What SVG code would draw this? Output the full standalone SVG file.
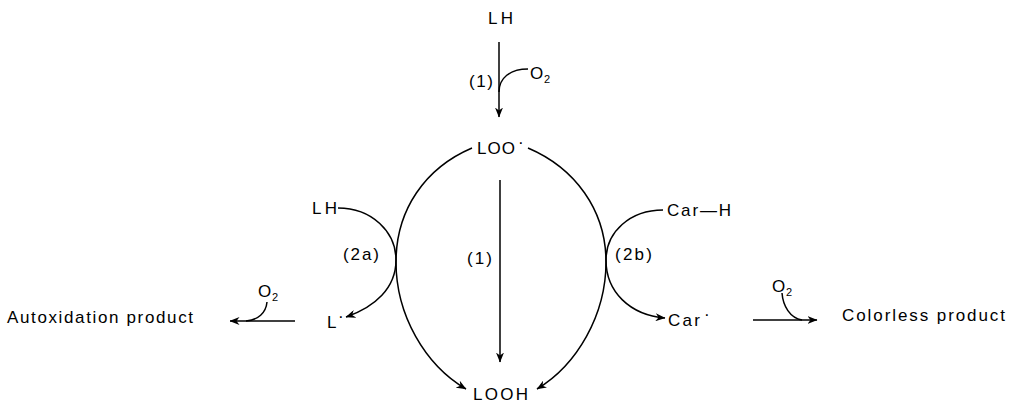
<svg xmlns="http://www.w3.org/2000/svg" width="1018" height="404" viewBox="0 0 1018 404">
<defs>
<marker id="ah" viewBox="0 0 10 8" refX="9.5" refY="4" markerWidth="10" markerHeight="8" markerUnits="userSpaceOnUse" orient="auto">
<path d="M0,0 L10,4 L0,8 L3,4 z" fill="#000"/>
</marker>
<style>
text{font-family:"Liberation Sans",Arial,sans-serif;font-size:17px;fill:#000}
.sub{font-size:11px}
.ln{fill:none;stroke:#000;stroke-width:1.5}
.arr{fill:none;stroke:#000;stroke-width:1.5;marker-end:url(#ah)}
</style>
</defs>
<rect width="1018" height="404" fill="#fff"/>
<g id="connectors">
<path class="arr" d="M499 42 L499 117"/>
<path class="ln" d="M499 92 C499 78 510 69 528 69"/>
<path class="arr" d="M472 148 C425 168 396 210 396 262 C396 315 425 365 466 389"/>
<path class="arr" d="M528 148 C575 168 606 210 606 262 C606 315 577 365 537 389"/>
<path class="arr" d="M500 180 L500 362"/>
<path class="arr" d="M338 208 C372 208 396 232 396 260 C396 288 375 307 346 317"/>
<path class="arr" d="M663 210 C630 210 606 232 606 260 C606 292 630 315 665 318"/>
<path class="arr" d="M295 321 L230 321"/>
<path class="ln" d="M267 302 C266 313 258 320 246 321"/>
<path class="arr" d="M753 320 L817 320"/>
<path class="ln" d="M782 293 C783 306 790 318 802 320"/>
</g>
<g id="node-LH-top"><text x="488" y="24" textLength="25" lengthAdjust="spacing">LH</text></g>
<g id="label-1-top"><text x="469" y="87" textLength="24" lengthAdjust="spacing">(1)</text></g>
<g id="O2-top"><text x="530" y="79">O</text><text class="sub" x="544" y="83">2</text></g>
<g id="node-LOO"><text x="477" y="154" textLength="38" lengthAdjust="spacing">LOO</text><text x="518" y="148">·</text></g>
<g id="label-1-mid"><text x="467" y="264" textLength="25" lengthAdjust="spacing">(1)</text></g>
<g id="node-LH-left"><text x="312" y="214" textLength="25" lengthAdjust="spacing">LH</text></g>
<g id="label-2a"><text x="343" y="260" textLength="36" lengthAdjust="spacing">(2a)</text></g>
<g id="node-CarH"><text x="667" y="216" textLength="64" lengthAdjust="spacing">Car—H</text></g>
<g id="label-2b"><text x="615" y="260" textLength="37" lengthAdjust="spacing">(2b)</text></g>
<g id="node-L"><text x="327" y="328">L</text><text x="338" y="322">·</text></g>
<g id="node-Car"><text x="668" y="326" textLength="32" lengthAdjust="spacing">Car</text><text x="704" y="320">·</text></g>
<g id="node-autox"><text x="7" y="323" textLength="186" lengthAdjust="spacing">Autoxidation product</text></g>
<g id="O2-left"><text x="258" y="297">O</text><text class="sub" x="272" y="301">2</text></g>
<g id="node-colorless"><text x="842" y="321" textLength="163" lengthAdjust="spacing">Colorless product</text></g>
<g id="O2-right"><text x="772" y="292">O</text><text class="sub" x="786" y="296">2</text></g>
<g id="node-LOOH"><text x="473" y="400" textLength="55" lengthAdjust="spacing">LOOH</text></g>
</svg>
